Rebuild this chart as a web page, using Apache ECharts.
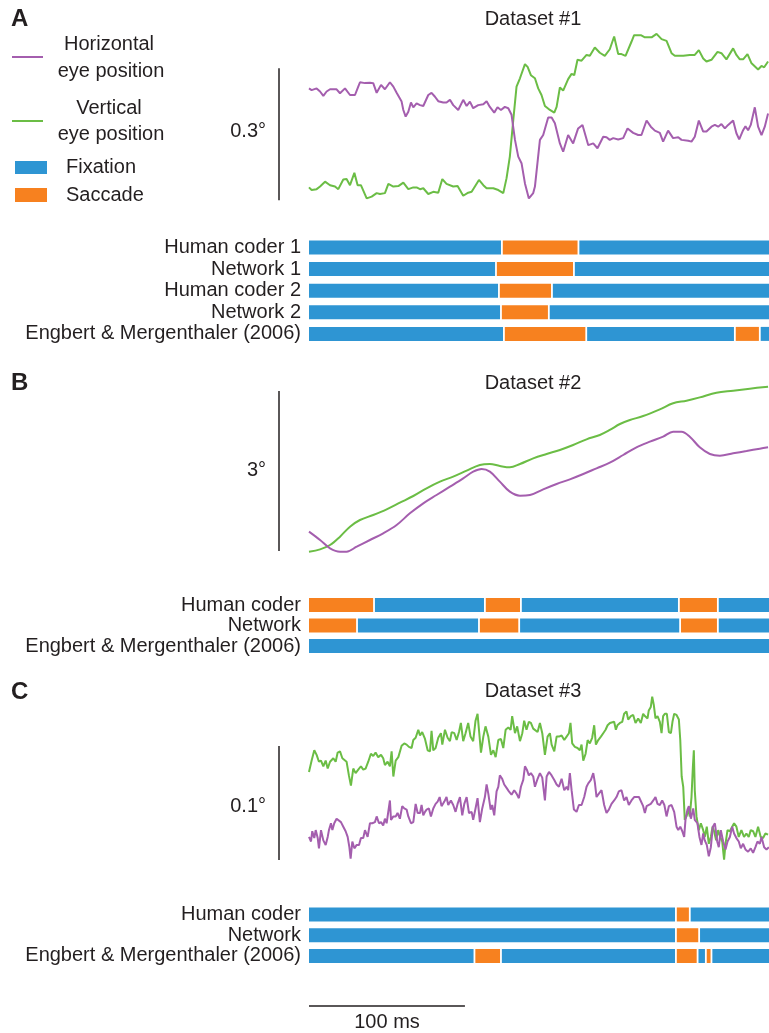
<!DOCTYPE html>
<html><head><meta charset="utf-8">
<script src="https://cdn.jsdelivr.net/npm/echarts@6/dist/echarts.min.js"></script>
<style>html,body{margin:0;padding:0;background:#fff}#c{width:769px;height:1033px}</style>
</head><body><div id="c"></div>
<script>
// ---------- DATA (time in ms, position in degrees) ----------
const T_END = 295;
const SCALE_MS = 100;
const scaleDeg = [0.3, 3, 0.1];
const scaleLabels = ['0.3°', '3°', '0.1°'];
const titles = ['Dataset #1', 'Dataset #2', 'Dataset #3'];
const panelLetters = ['A', 'B', 'C'];

const hPosA = [[0,0.265],[1.7,0.261],[4.9,0.265],[7.1,0.258],[9.2,0.248],[11.3,0.258],[13.5,0.263],[17.7,0.263],[19.9,0.254],[23.1,0.265],[26.3,0.250],[29.5,0.250],[31.6,0.269],[32.7,0.279],[35.9,0.277],[39.1,0.278],[41.2,0.277],[43.4,0.255],[46.2,0.273],[48.7,0.263],[51.9,0.279],[54.1,0.269],[56.2,0.255],[59.4,0.235],[60.5,0.216],[62.0,0.201],[63.7,0.212],[65.4,0.233],[66.9,0.222],[69.0,0.231],[71.2,0.227],[73.3,0.225],[76.5,0.250],[78.6,0.255],[80.8,0.246],[82.9,0.236],[86.1,0.233],[88.2,0.233],[90.4,0.239],[92.5,0.227],[95.7,0.216],[98.9,0.239],[101.1,0.225],[103.2,0.235],[105.3,0.220],[108.5,0.227],[111.8,0.229],[113.9,0.236],[116.0,0.223],[118.8,0.210],[120.9,0.222],[123.1,0.216],[125.6,0.223],[127.8,0.220],[129.9,0.205],[132.1,0.148],[134.2,0.110],[136.3,0.095],[138.5,0.049],[141.0,0.015],[143.8,0.027],[144.9,0.042],[148.1,0.148],[150.2,0.159],[153.4,0.199],[155.6,0.199],[157.7,0.186],[160.9,0.140],[163.0,0.121],[166.2,0.159],[169.4,0.140],[172.6,0.174],[175.4,0.182],[179.1,0.136],[182.3,0.140],[185.0,0.129],[188.7,0.155],[190.8,0.154],[192.9,0.148],[195.1,0.152],[198.3,0.149],[201.5,0.152],[204.3,0.174],[207.9,0.164],[211.1,0.159],[213.2,0.159],[216.5,0.192],[219.2,0.178],[221.8,0.169],[225.0,0.164],[227.1,0.144],[230.3,0.169],[233.5,0.152],[236.8,0.154],[238.9,0.148],[243.2,0.146],[245.3,0.144],[247.4,0.155],[250.0,0.192],[252.8,0.167],[254.9,0.167],[258.1,0.178],[260.3,0.182],[262.4,0.178],[264.5,0.184],[266.7,0.174],[268.8,0.182],[272.0,0.192],[274.1,0.163],[275.9,0.149],[278.4,0.170],[279.9,0.179],[281.6,0.170],[283.3,0.182],[285.9,0.222],[288.0,0.178],[290.2,0.159],[292.3,0.178],[294.4,0.208]];

const vPosA = [[0,0.040],[1.7,0.034],[4.9,0.036],[7.1,0.042],[10.3,0.053],[13.5,0.045],[16.7,0.042],[18.8,0.036],[22.0,0.058],[24.1,0.059],[26.3,0.045],[29.1,0.073],[31.2,0.045],[33.3,0.045],[37.0,0.015],[40.2,0.019],[43.4,0.027],[45.5,0.025],[48.7,0.027],[50.9,0.048],[54.1,0.042],[57.3,0.043],[60.5,0.051],[63.7,0.036],[66.9,0.040],[69.0,0.040],[71.2,0.036],[73.3,0.038],[76.5,0.025],[79.7,0.030],[82.9,0.028],[85.5,0.059],[88.2,0.048],[92.5,0.042],[95.3,0.043],[98.9,0.021],[102.1,0.028],[104.3,0.030],[109.0,0.057],[111.8,0.045],[113.9,0.038],[118.2,0.038],[121.4,0.034],[124.6,0.027],[126.7,0.061],[128.8,0.110],[131.0,0.193],[133.1,0.269],[135.3,0.288],[138.5,0.320],[140.2,0.314],[142.3,0.295],[144.9,0.288],[147.0,0.265],[149.1,0.250],[151.3,0.225],[154.5,0.216],[157.3,0.210],[158.8,0.223],[160.9,0.267],[163.0,0.260],[166.2,0.286],[168.4,0.298],[170.1,0.295],[172.2,0.330],[174.8,0.328],[178.0,0.341],[180.1,0.339],[183.3,0.358],[186.5,0.346],[189.7,0.339],[192.9,0.354],[195.7,0.383],[198.3,0.343],[200.4,0.343],[203.0,0.339],[206.8,0.371],[208.5,0.386],[212.8,0.386],[215.4,0.381],[219.7,0.381],[222.9,0.389],[226.1,0.377],[229.3,0.373],[232.5,0.345],[234.6,0.339],[240.0,0.339],[241.0,0.336],[244.2,0.341],[247.4,0.341],[250.0,0.352],[252.8,0.333],[254.9,0.326],[258.1,0.330],[262.0,0.348],[264.5,0.345],[267.7,0.331],[272.0,0.356],[274.1,0.341],[276.3,0.331],[278.4,0.331],[281.2,0.343],[283.8,0.322],[288.0,0.308],[290.2,0.316],[291.9,0.313],[294.4,0.326]];

const hPosB = [[0,0.531],[7.1,0.375],[13.5,0.219],[19.9,0.156],[24.1,0.156],[30.6,0.250],[39.1,0.375],[47.6,0.500],[56.2,0.656],[64.7,0.875],[73.3,1.063],[81.8,1.219],[90.4,1.375],[98.9,1.531],[105.3,1.656],[110.7,1.706],[116.0,1.656],[122.4,1.469],[128.8,1.281],[135.3,1.206],[141.7,1.219],[150.2,1.325],[158.8,1.425],[167.3,1.513],[175.9,1.613],[184.4,1.719],[192.9,1.825],[201.5,1.969],[210.0,2.113],[218.6,2.219],[227.1,2.313],[233.5,2.406],[238.9,2.406],[244.2,2.313],[250.6,2.113],[257.1,1.988],[263.5,1.956],[272.0,2.000],[280.6,2.044],[289.1,2.088],[294.4,2.113]];

const vPosB = [[0,0.156],[7.1,0.200],[13.5,0.281],[19.9,0.438],[26.3,0.625],[32.7,0.750],[41.2,0.844],[49.8,0.950],[58.3,1.075],[66.9,1.200],[75.4,1.344],[84.0,1.469],[92.5,1.563],[101.1,1.675],[109.6,1.781],[116.0,1.800],[122.4,1.763],[128.8,1.738],[135.3,1.800],[143.8,1.906],[152.4,1.988],[160.9,2.063],[169.4,2.156],[178.0,2.263],[186.5,2.344],[192.9,2.438],[199.4,2.550],[205.8,2.625],[214.3,2.700],[225.0,2.825],[233.5,2.938],[242.1,2.988],[250.6,3.050],[261.3,3.138],[272.0,3.175],[282.7,3.213],[294.4,3.250]];

const hPosC = [[0,0.029],[1.3,0.025],[2.1,0.034],[3.4,0.028],[4.3,0.035],[5.6,0.028],[6.4,0.019],[7.7,0.035],[9.2,0.026],[10.7,0.022],[12.0,0.029],[12.8,0.035],[14.1,0.041],[15.0,0.035],[16.2,0.041],[17.7,0.045],[18.8,0.046],[20.5,0.042],[22.0,0.038],[23.5,0.034],[24.8,0.029],[25.9,0.020],[26.7,0.010],[27.8,0.025],[29.1,0.019],[30.6,0.022],[32.1,0.022],[33.3,0.028],[34.8,0.028],[35.9,0.035],[37.6,0.029],[39.1,0.041],[40.6,0.041],[42.3,0.042],[43.4,0.047],[44.9,0.041],[46.2,0.042],[47.6,0.039],[48.7,0.045],[49.8,0.041],[50.9,0.042],[51.9,0.061],[52.6,0.044],[54.1,0.047],[55.6,0.047],[56.8,0.050],[58.3,0.045],[59.8,0.056],[61.1,0.054],[62.6,0.053],[63.7,0.047],[65.4,0.041],[66.9,0.042],[68.4,0.058],[69.7,0.050],[71.2,0.050],[72.2,0.057],[73.3,0.048],[74.4,0.051],[75.4,0.053],[76.9,0.054],[78.2,0.047],[79.7,0.054],[81.2,0.058],[82.5,0.060],[83.8,0.064],[85.0,0.056],[86.8,0.060],[88.2,0.064],[89.3,0.057],[91.0,0.061],[92.5,0.057],[94.0,0.051],[95.3,0.058],[96.8,0.064],[98.3,0.048],[99.6,0.058],[101.1,0.064],[102.6,0.050],[104.3,0.051],[105.3,0.044],[106.8,0.054],[108.1,0.063],[109.6,0.042],[111.1,0.054],[112.8,0.064],[113.9,0.075],[115.0,0.067],[116.5,0.053],[117.5,0.057],[118.8,0.048],[120.3,0.069],[121.4,0.073],[122.4,0.083],[123.9,0.080],[125.2,0.075],[126.7,0.072],[128.2,0.069],[129.9,0.066],[131.6,0.070],[133.1,0.067],[134.6,0.063],[135.9,0.073],[137.4,0.079],[138.5,0.091],[139.7,0.088],[141.0,0.083],[142.3,0.085],[143.8,0.082],[144.9,0.073],[146.6,0.080],[148.1,0.085],[149.6,0.081],[151.3,0.061],[152.4,0.082],[153.9,0.086],[155.6,0.083],[157.3,0.079],[158.8,0.075],[160.3,0.073],[162.0,0.080],[163.7,0.070],[165.2,0.073],[166.2,0.070],[167.3,0.085],[168.4,0.070],[169.9,0.053],[171.6,0.051],[173.1,0.057],[174.8,0.057],[176.5,0.064],[178.0,0.073],[179.1,0.076],[180.8,0.079],[182.3,0.085],[183.3,0.077],[184.4,0.064],[185.9,0.067],[187.6,0.070],[189.3,0.057],[190.8,0.050],[192.3,0.053],[194.0,0.058],[195.7,0.061],[197.2,0.064],[198.7,0.069],[200.4,0.070],[202.1,0.061],[203.6,0.064],[205.1,0.057],[206.8,0.061],[208.5,0.064],[210.0,0.064],[211.6,0.064],[212.8,0.064],[214.3,0.056],[215.4,0.050],[216.5,0.056],[217.5,0.057],[219.2,0.058],[220.8,0.061],[222.2,0.064],[223.5,0.058],[225.0,0.057],[226.5,0.061],[227.9,0.057],[229.3,0.047],[230.8,0.056],[232.5,0.057],[234.2,0.051],[235.7,0.038],[236.8,0.035],[238.1,0.038],[239.4,0.034],[240.6,0.029],[241.5,0.045],[242.7,0.053],[243.6,0.056],[244.9,0.045],[246.4,0.054],[247.4,0.044],[249.1,0.041],[250.4,0.029],[251.7,0.022],[252.8,0.032],[253.8,0.026],[255.1,0.022],[256.4,0.012],[257.7,0.020],[259.0,0.038],[260.3,0.041],[261.8,0.025],[262.8,0.020],[264.1,0.035],[265.6,0.025],[267.1,0.018],[268.4,0.025],[269.9,0.029],[271.4,0.038],[272.6,0.032],[274.1,0.028],[275.6,0.025],[276.9,0.019],[278.4,0.023],[279.9,0.018],[281.6,0.016],[283.3,0.019],[284.8,0.015],[286.3,0.020],[287.6,0.025],[289.1,0.023],[290.2,0.029],[291.9,0.020],[293.4,0.018],[294.9,0.020]];

const vPosC = [[0,0.086],[1.7,0.096],[3.4,0.105],[4.9,0.101],[6.4,0.095],[7.7,0.096],[9.2,0.091],[10.7,0.096],[12.0,0.089],[13.5,0.095],[14.5,0.094],[15.6,0.098],[17.1,0.095],[18.4,0.103],[19.9,0.104],[21.4,0.098],[22.6,0.099],[24.1,0.095],[25.6,0.083],[26.9,0.074],[28.4,0.089],[29.9,0.085],[31.6,0.088],[33.3,0.091],[34.8,0.088],[36.3,0.089],[38.0,0.095],[39.7,0.102],[41.2,0.100],[42.7,0.103],[44.4,0.099],[46.2,0.101],[47.6,0.098],[48.7,0.092],[50.4,0.095],[51.9,0.091],[53.0,0.104],[54.1,0.082],[55.6,0.096],[57.3,0.099],[59.4,0.109],[61.1,0.111],[62.6,0.110],[64.1,0.108],[65.8,0.107],[66.9,0.114],[68.4,0.116],[70.1,0.123],[71.2,0.118],[72.6,0.121],[74.4,0.115],[76.1,0.105],[77.6,0.104],[78.6,0.122],[79.7,0.105],[81.2,0.107],[82.9,0.116],[84.6,0.120],[85.5,0.110],[87.2,0.123],[88.9,0.116],[90.4,0.113],[91.5,0.121],[93.2,0.120],[94.7,0.114],[96.2,0.121],[97.4,0.129],[98.9,0.113],[100.4,0.120],[102.1,0.129],[103.6,0.117],[105.3,0.113],[106.8,0.131],[108.1,0.137],[109.2,0.120],[110.3,0.103],[111.8,0.117],[113.2,0.126],[115.0,0.117],[116.7,0.101],[118.2,0.105],[119.7,0.099],[121.4,0.114],[123.1,0.115],[124.6,0.107],[126.1,0.123],[127.8,0.125],[129.3,0.123],[130.3,0.135],[132.1,0.120],[133.5,0.126],[135.3,0.113],[136.8,0.120],[138.0,0.131],[139.5,0.123],[141.0,0.130],[142.3,0.129],[143.8,0.124],[144.9,0.123],[146.6,0.121],[148.1,0.129],[149.6,0.120],[151.3,0.101],[153.0,0.117],[154.5,0.120],[155.6,0.110],[157.3,0.104],[158.8,0.117],[160.3,0.117],[162.0,0.118],[163.7,0.114],[165.2,0.117],[166.7,0.120],[167.7,0.129],[168.8,0.111],[170.5,0.108],[172.2,0.107],[173.7,0.105],[174.8,0.110],[175.9,0.096],[177.4,0.102],[178.7,0.114],[180.1,0.111],[181.6,0.116],[182.9,0.127],[184.0,0.110],[185.5,0.114],[187.2,0.117],[188.7,0.120],[190.2,0.123],[191.5,0.127],[193.0,0.129],[194.0,0.130],[195.7,0.130],[196.8,0.123],[197.8,0.127],[199.4,0.129],[200.9,0.130],[202.1,0.137],[203.6,0.139],[204.7,0.132],[206.4,0.135],[207.9,0.136],[209.4,0.129],[211.1,0.133],[212.8,0.129],[214.3,0.137],[215.4,0.135],[217.1,0.133],[217.9,0.140],[219.2,0.143],[220.1,0.152],[221.1,0.145],[222.2,0.133],[223.5,0.135],[225.0,0.130],[226.1,0.120],[227.1,0.135],[228.2,0.137],[229.5,0.137],[230.8,0.121],[232.1,0.120],[233.1,0.130],[234.2,0.137],[235.7,0.136],[237.2,0.132],[238.1,0.114],[239.0,0.082],[240.0,0.073],[241.0,0.044],[242.1,0.047],[243.2,0.053],[244.2,0.047],[245.3,0.064],[246.2,0.091],[246.8,0.105],[247.4,0.070],[248.5,0.047],[250.0,0.035],[251.3,0.041],[252.8,0.035],[253.8,0.029],[255.1,0.038],[256.4,0.023],[257.7,0.029],[258.8,0.038],[259.8,0.034],[261.1,0.026],[262.4,0.035],[263.7,0.029],[265.0,0.025],[266.2,0.009],[267.1,0.023],[268.4,0.035],[269.9,0.034],[271.4,0.038],[272.6,0.041],[274.1,0.038],[275.6,0.029],[277.3,0.035],[279.0,0.029],[280.5,0.032],[282.0,0.029],[283.3,0.035],[284.8,0.034],[286.3,0.029],[288.0,0.038],[289.7,0.029],[291.2,0.028],[292.7,0.032],[294.4,0.031]];

const rowsA = ['Human coder 1', 'Network 1', 'Human coder 2', 'Network 2', 'Engbert & Mergenthaler (2006)'];
const rowsB = ['Human coder', 'Network', 'Engbert & Mergenthaler (2006)'];
const rowsC = ['Human coder', 'Network', 'Engbert & Mergenthaler (2006)'];
// [row, start ms, end ms, kind] kind 0 = fixation, 1 = saccade
const segA = [[0,0,123.7,0],[0,123.7,172.8,1],[0,172.8,295,0],
  [1,0,119.9,0],[1,119.9,169.9,1],[1,169.9,295,0],
  [2,0,121.8,0],[2,121.8,155.8,1],[2,155.8,295,0],
  [3,0,123.1,0],[3,123.1,153.8,1],[3,153.8,295,0],
  [4,0,125.0,0],[4,125.0,177.8,1],[4,177.8,273.1,0],[4,273.1,289.1,1],[4,289.1,295,0]];
const segB = [[0,0,41.7,1],[0,41.7,112.8,0],[0,112.8,135.9,1],[0,135.9,237.2,0],[0,237.2,262.2,1],[0,262.2,295,0],
  [1,0,30.8,1],[1,30.8,109.0,0],[1,109.0,134.8,1],[1,134.8,238.0,0],[1,238.0,262.2,1],[1,262.2,295,0],
  [2,0,295,0]];
const segC = [[0,0,235.3,0],[0,235.3,244.2,1],[0,244.2,295,0],
  [1,0,235.3,0],[1,235.3,250.2,1],[1,250.2,295,0],
  [2,0,106.1,0],[2,106.1,123.1,1],[2,123.1,235.3,0],[2,235.3,249.2,1],[2,249.2,254.5,0],[2,254.5,258.1,1],[2,258.1,295,0]];
const legendLabels = ['Horizontal', 'eye position', 'Vertical', 'eye position', 'Fixation', 'Saccade'];
const scaleBarLabel = '100 ms';

// ---------- STYLE ----------
const TXT = '#231f20';
const FONT = '"Liberation Sans", Arial, Helvetica, sans-serif';
const MAG = '#a45eae';
const GRN = '#6bbd45';
const BLUE = '#2e95d3';
const ORANGE = '#f7811f';

const chart = echarts.init(document.getElementById('c'), null, {renderer: 'canvas'});

const PX_MS = 1.56;
const TRACE_LEFT = 270, TMIN = -25;
const traceW = (T_END - TMIN) * PX_MS;
const traceGrids = [
  {top: 30, height: 175, ymax: 175 / 440, bar0: 0.011},
  {top: 380, height: 180, ymax: 180 / 53.33, bar0: 0.169},
  {top: 690, height: 180, ymax: 180 / 1140, bar0: 0.0088}
];
const eventGrids = [
  {top: 236.7, height: 108, rows: rowsA, segs: segA},
  {top: 594.75, height: 61.5, rows: rowsB, segs: segB},
  {top: 904.1, height: 62.25, rows: rowsC, segs: segC}
];
const traces = [[hPosA, vPosA], [hPosB, vPosB], [hPosC, vPosC]];

const grid = [], xAxis = [], yAxis = [], series = [];
traceGrids.forEach((g, i) => {
  grid.push({left: TRACE_LEFT, top: g.top, width: traceW, height: g.height});
  xAxis.push({gridIndex: grid.length - 1, type: 'value', min: TMIN, max: T_END, show: false});
  yAxis.push({gridIndex: grid.length - 1, type: 'value', min: 0, max: g.ymax, show: false});
  const gi = grid.length - 1;
  const smooth = i === 1 ? 0.35 : false;
  series.push({type: 'line', xAxisIndex: gi, yAxisIndex: gi, data: traces[i][1], showSymbol: false, smooth,
    lineStyle: {color: GRN, width: 2}, itemStyle: {color: GRN}, z: 2,
    markLine: {silent: true, symbol: ['none', 'none'], label: {show: false}, animation: false,
      lineStyle: {color: TXT, width: 1.5, type: 'solid'},
      data: [[{coord: [-19.2, g.bar0]}, {coord: [-19.2, g.bar0 + scaleDeg[i]]}]]}});
  series.push({type: 'line', xAxisIndex: gi, yAxisIndex: gi, data: traces[i][0], showSymbol: false, smooth,
    lineStyle: {color: MAG, width: 2}, itemStyle: {color: MAG}, z: 3});
});
eventGrids.forEach((g) => {
  grid.push({left: 309, top: g.top, width: 460, height: g.height});
  const gi = grid.length - 1;
  xAxis.push({gridIndex: gi, type: 'value', min: 0, max: T_END, show: false});
  yAxis.push({gridIndex: gi, type: 'category', data: g.rows, inverse: true,
    axisLine: {show: false}, axisTick: {show: false}, splitLine: {show: false},
    axisLabel: {color: TXT, fontSize: 20, fontFamily: FONT, margin: 8, interval: 0, hideOverlap: false}});
  series.push({type: 'custom', xAxisIndex: gi, yAxisIndex: gi, data: g.segs,
    encode: {x: [1, 2], y: 0},
    renderItem: function (params, api) {
      const r = api.value(0), s = api.value(1), e = api.value(2), k = api.value(3);
      const p0 = api.coord([s, r]);
      const p1 = api.coord([e, r]);
      const h = 14, gap = 0.9;
      const x0 = p0[0] + (s > 0 ? gap : 0);
      const x1 = p1[0] - (e < T_END ? gap : 0);
      return {type: 'rect', shape: {x: x0, y: p0[1] - h / 2, width: x1 - x0, height: h},
        style: {fill: k ? ORANGE : BLUE}};
    }});
});
// time scale bar
grid.push({left: 309, top: 996, width: 460, height: 20});
const sgi = grid.length - 1;
xAxis.push({gridIndex: sgi, type: 'value', min: 0, max: T_END, show: false});
yAxis.push({gridIndex: sgi, type: 'value', min: -1, max: 1, show: false});
series.push({type: 'line', xAxisIndex: sgi, yAxisIndex: sgi, data: [[0, 0], [SCALE_MS, 0]], showSymbol: false,
  lineStyle: {color: TXT, width: 1.5}, label: {show: false}});

function txt(text, x, y, opts) {
  opts = opts || {};
  return {type: 'text', x: x, y: y, silent: true, style: {text: text, fill: TXT,
    font: (opts.bold ? 'bold ' : '') + (opts.size || 20) + 'px ' + FONT,
    textAlign: opts.align || 'left', align: opts.align || 'left',
    textVerticalAlign: 'middle', verticalAlign: 'middle'}};
}
const graphic = [];
const letterY = [19, 383, 692];
const titleY = [19, 383, 691];
const scaleLabelY = [131, 470, 806];
for (let i = 0; i < 3; i++) {
  graphic.push(txt(panelLetters[i], 11, letterY[i], {bold: true, size: 24}));
  graphic.push(txt(titles[i], 533, titleY[i], {align: 'center'}));
  graphic.push(txt(scaleLabels[i], 266, scaleLabelY[i], {align: 'right'}));
}
graphic.push(txt(scaleBarLabel, 387, 1022, {align: 'center'}));
// legend
graphic.push({type: 'line', shape: {x1: 12, y1: 57, x2: 43, y2: 57}, style: {stroke: MAG, lineWidth: 2}});
graphic.push({type: 'line', shape: {x1: 12, y1: 121, x2: 43, y2: 121}, style: {stroke: GRN, lineWidth: 2}});
graphic.push({type: 'rect', shape: {x: 15, y: 161, width: 32, height: 13}, style: {fill: BLUE}});
graphic.push({type: 'rect', shape: {x: 15, y: 188, width: 32, height: 14}, style: {fill: ORANGE}});
graphic.push(txt(legendLabels[0], 109, 44, {align: 'center'}));
graphic.push(txt(legendLabels[1], 111, 71, {align: 'center'}));
graphic.push(txt(legendLabels[2], 109, 108, {align: 'center'}));
graphic.push(txt(legendLabels[3], 111, 134, {align: 'center'}));
graphic.push(txt(legendLabels[4], 66, 167, {}));
graphic.push(txt(legendLabels[5], 66, 195, {}));

chart.setOption({animation: false, backgroundColor: '#ffffff', grid, xAxis, yAxis, series, graphic,
  textStyle: {fontFamily: FONT}});
</script></body></html>
